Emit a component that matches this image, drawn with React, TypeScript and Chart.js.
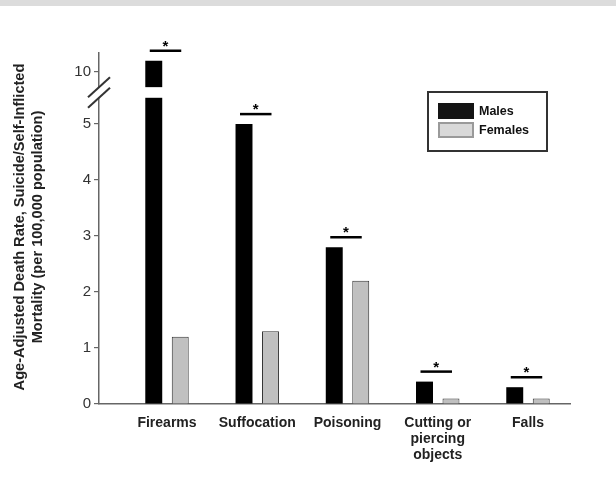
import React, { useEffect, useRef } from "react";
import { Chart, registerables } from "chart.js";

Chart.register(...registerables);

const categories = ["Firearms", "Suffocation", "Poisoning", "Cutting or piercing objects", "Falls"];
const categoryLabelLines = [["Firearms"], ["Suffocation"], ["Poisoning"], ["Cutting or", "piercing", "objects"], ["Falls"]];
const males = [10.2, 5.0, 2.8, 0.4, 0.3];
const females = [1.2, 1.3, 2.2, 0.1, 0.1];
const significant = [true, true, true, true, true];
const yTickValues = [0, 1, 2, 3, 4, 5, 10];
const yTitleLines = ["Age-Adjusted Death Rate, Suicide/Self-Inflicted", "Mortality (per 100,000 population)"];
const seriesLabels = ["Males", "Females"];

// broken axis: values above the break are shifted down
const BREAK_LOW = 5.47;
const BREAK_HIGH = 5.66;
const TEN_AT = 5.93;
function toDisplay(v: number): number {
  if (v <= 5) return v;
  if (v >= 10) return TEN_AT + (v - 10);
  return 5 + ((v - 5) / 5) * (TEN_AT - 5);
}

const FONT = "'Liberation Sans', Arial, Helvetica, sans-serif";

const annotationsPlugin = {
  id: "annotations",
  afterDatasetsDraw(chart: any) {
    const { ctx } = chart;
    const y = chart.scales.y;
    const mMeta = chart.getDatasetMeta(0);
    const fMeta = chart.getDatasetMeta(1);
    const yLo = y.getPixelForValue(BREAK_LOW);
    const yHi = y.getPixelForValue(BREAK_HIGH);
    ctx.save();
    // gap in broken bars
    males.forEach((v, i) => {
      if (v > 5) {
        const bar = mMeta.data[i];
        ctx.fillStyle = "#ffffff";
        ctx.fillRect(bar.x - bar.width / 2 - 1, yHi, bar.width + 2, yLo - yHi);
      }
    });
    // significance markers
    males.forEach((_, i) => {
      if (!significant[i]) return;
      const mb = mMeta.data[i];
      const fb = fMeta.data[i];
      const top = Math.min(mb.y, fb.y);
      const ly = top - 10;
      const x1 = mb.x - 4;
      const x2 = fb.x + 1;
      ctx.strokeStyle = "#000";
      ctx.lineWidth = 2.5;
      ctx.beginPath();
      ctx.moveTo(x1, ly);
      ctx.lineTo(x2, ly);
      ctx.stroke();
      ctx.fillStyle = "#000";
      ctx.font = `bold 15px ${FONT}`;
      ctx.textAlign = "center";
      ctx.textBaseline = "alphabetic";
      ctx.fillText("*", (x1 + x2) / 2, ly + 0);
    });
    ctx.restore();
  },
  afterDraw(chart: any) {
    const { ctx, chartArea } = chart;
    const y = chart.scales.y;
    const yLo = y.getPixelForValue(BREAK_LOW);
    const yHi = y.getPixelForValue(BREAK_HIGH);
    const ax = chartArea.left;
    ctx.save();
    // axis break
    ctx.fillStyle = "#fff";
    ctx.fillRect(ax - 2, yHi, 4, yLo - yHi);
    ctx.strokeStyle = "#333";
    ctx.lineWidth = 2;
    [yHi, yLo].forEach((yc) => {
      ctx.beginPath();
      ctx.moveTo(ax - 11, yc + 10);
      ctx.lineTo(ax + 11, yc - 10);
      ctx.stroke();
    });
    // y title
    ctx.fillStyle = "#222";
    ctx.font = `bold 14.6px ${FONT}`;
    ctx.textAlign = "center";
    ctx.textBaseline = "middle";
    const cy = (chartArea.top + chartArea.bottom) / 2 - 1.5;
    const xs = [12, 29.5];
    yTitleLines.forEach((t, i) => {
      ctx.save();
      ctx.translate(xs[i], cy);
      ctx.rotate(-Math.PI / 2);
      ctx.fillText(t, 0, 0);
      ctx.restore();
    });
    // legend
    const bx = chartArea.right - 142;
    const by = chartArea.top + 39;
    const bw = 119;
    const bh = 59;
    ctx.strokeStyle = "#333";
    ctx.lineWidth = 2;
    ctx.strokeRect(bx, by, bw, bh);
    const fills = ["#141414", "#d9d9d9"];
    const borders = ["#141414", "#9a9a9a"];
    ctx.font = `bold 12.5px ${FONT}`;
    ctx.textAlign = "left";
    ctx.textBaseline = "middle";
    seriesLabels.forEach((lab, i) => {
      const sy = by + 12 + i * 19;
      ctx.fillStyle = fills[i];
      ctx.fillRect(bx + 11, sy, 34, 14);
      ctx.strokeStyle = borders[i];
      ctx.lineWidth = 2;
      ctx.strokeRect(bx + 11, sy, 34, 14);
      ctx.fillStyle = "#111";
      ctx.fillText(lab, bx + 51, sy + 7.5);
    });
    ctx.restore();
  },
};

export default function App() {
  const ref = useRef<HTMLCanvasElement>(null);
  useEffect(() => {
    if (!ref.current) return;
    const chart = new Chart(ref.current, {
      type: "bar",
      data: {
        datasets: [
          {
            label: seriesLabels[0],
            data: males.map((v, i) => ({ x: i + 1, y: toDisplay(v) })),
            backgroundColor: "#000000",
            borderColor: "#000000",
            borderWidth: 0,
          },
          {
            label: seriesLabels[1],
            data: females.map((v, i) => ({ x: i + 1, y: toDisplay(v) })),
            backgroundColor: "#c0c0c0",
            borderColor: "#333333",
            borderWidth: 1,
            borderSkipped: "bottom",
          },
        ],
      } as any,
      options: {
        responsive: false,
        animation: false,
        categoryPercentage: 0.587,
        barPercentage: 0.64,
        layout: { padding: { top: 45, right: 38, left: 0, bottom: 0 } },
        plugins: { legend: { display: false }, tooltip: { enabled: false } },
        scales: {
          x: {
            type: "linear",
            min: 0.2465,
            max: 5.4655,
            offset: false,
            grid: { display: false, offset: false },
            border: { display: true, color: "#666", width: 1.5 },
            afterBuildTicks: (axis: any) => {
              axis.ticks = categories.map((_, i) => ({ value: i + 1 }));
            },
            afterFit: (scale: any) => {
              scale.height = 66;
            },
            ticks: {
              autoSkip: false,
              maxRotation: 0,
              padding: 3,
              color: "#222",
              font: { family: FONT, size: 14, weight: "bold", lineHeight: 1.15 },
              callback: (value: any) => categoryLabelLines[Math.round(Number(value)) - 1] || "",
            },
          },
          y: {
            type: "linear",
            min: 0,
            max: 6.27,
            grid: { display: true, drawOnChartArea: false, drawTicks: true, tickLength: 5, color: "#666", lineWidth: 1.2 },
            border: { display: true, color: "#666", width: 1.5 },
            afterBuildTicks: (axis: any) => {
              axis.ticks = yTickValues.map((v) => ({ value: toDisplay(v) }));
            },
            afterFit: (scale: any) => {
              scale.width = 91;
            },
            ticks: {
              autoSkip: false,
              padding: 3,
              color: "#333",
              font: { family: FONT, size: 15 },
              callback: (_v: any, index: number) => String(yTickValues[index]),
            },
          },
        },
      } as any,
      plugins: [annotationsPlugin],
    });
    return () => chart.destroy();
  }, []);
  return (
    <div>
      <div style={{ position: "fixed", top: 0, left: 0, width: "100%", height: 6, background: "#dcdcdc" }} />
      <canvas ref={ref} width={600} height={462} style={{ display: "block" }} />
    </div>
  );
}
